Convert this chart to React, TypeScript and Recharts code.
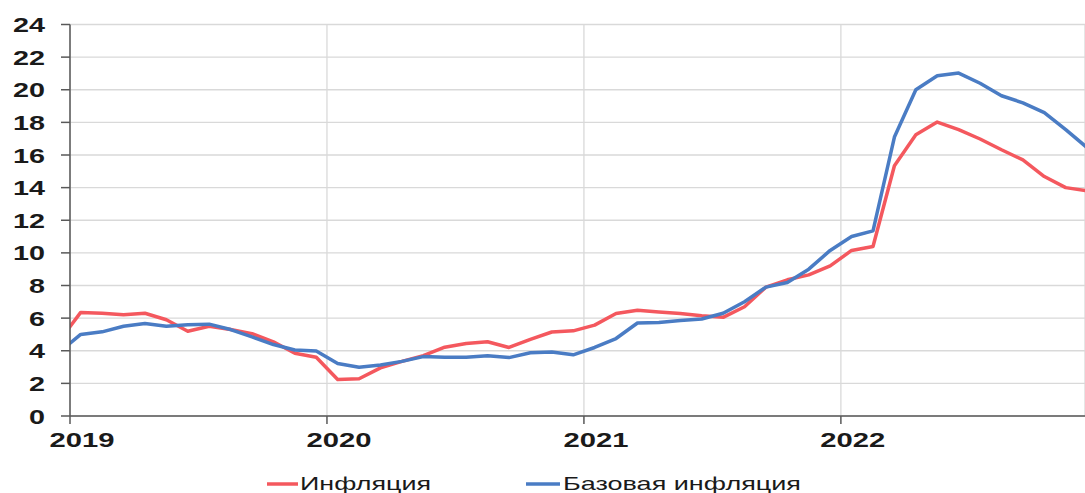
import { LineChart, Line, XAxis, YAxis, CartesianGrid, Legend } from 'recharts';

// monthly, mid-month points, Dec 2018 .. Dec 2022
const inflation = [
    4.6,
    6.35, 6.3, 6.2, 6.3, 5.9, 5.2, 5.5, 5.3, 5.05, 4.55, 3.85, 3.6,
    2.24, 2.28, 2.95, 3.35, 3.7, 4.22, 4.45, 4.55, 4.2, 4.7, 5.15, 5.22,
    5.57, 6.28, 6.48, 6.38, 6.28, 6.15, 6.05, 6.7, 7.9, 8.35, 8.65, 9.2,
    10.15, 10.39, 15.34, 17.24, 18.02, 17.55, 16.98, 16.32, 15.7, 14.68, 14.0, 13.8,
];
const coreInflation = [
    3.92,
    5.0, 5.16, 5.5, 5.67, 5.5, 5.6, 5.63, 5.3, 4.85, 4.38, 4.05, 3.98,
    3.22, 2.99, 3.13, 3.35, 3.64, 3.6, 3.6, 3.7, 3.58, 3.88, 3.92, 3.75,
    4.2, 4.75, 5.7, 5.73, 5.85, 5.95, 6.3, 7.0, 7.9, 8.18, 9.0, 10.15,
    11.0, 11.35, 17.1, 20.0, 20.86, 21.02, 20.4, 19.63, 19.2, 18.6, 17.55, 16.45,
];
const yearLabels = ['2019', '2020', '2021', '2022'];
const yTicks = [0, 2, 4, 6, 8, 10, 12, 14, 16, 18, 20, 22, 24];

const RED = '#F4585E';
const BLUE = '#4A7CC4';

const data = inflation.map((v, i) => ({
    t: i - 0.5,
    infl: v,
    core: coreInflation[i],
}));

const YTick = (props: any) => {
    const { x, y, payload } = props;
    const s = String(payload.value);
    return (
        <text x={x} y={y + 7.5} textAnchor="end" fontFamily="'Liberation Sans', Arial, sans-serif"
            fontWeight="bold" fontSize={21} fill="#1a1a1a"
            textLength={s.length * 16} lengthAdjust="spacingAndGlyphs">
            {s}
        </text>
    );
};

const XTick = (props: any) => {
    const { x, y, payload } = props;
    const label = yearLabels[Math.round(payload.value / 12)];
    return (
        <text x={x + 12} y={y + 23} textAnchor="middle" fontFamily="'Liberation Sans', Arial, sans-serif"
            fontWeight="bold" fontSize={19.5} fill="#1a1a1a"
            textLength={65} lengthAdjust="spacingAndGlyphs">
            {label}
        </text>
    );
};

const LegendBox = () => (
    <svg width={1085} height={22} style={{ display: 'block' }}>
        <line x1={267} x2={298} y1={13} y2={13} stroke={RED} strokeWidth={3.5} />
        <text x={300} y={19} fontFamily="'Liberation Sans', Arial, sans-serif" fontSize={19} fill="#1a1a1a"
            textLength={131} lengthAdjust="spacingAndGlyphs">Инфляция</text>
        <line x1={526} x2={560} y1={13} y2={13} stroke={BLUE} strokeWidth={3.5} />
        <text x={563} y={19} fontFamily="'Liberation Sans', Arial, sans-serif" fontSize={19} fill="#1a1a1a"
            textLength={238} lengthAdjust="spacingAndGlyphs">Базовая инфляция</text>
    </svg>
);

export default function App() {
    return (
        <div style={{ position: 'absolute', left: 0, top: 0, width: 1085, height: 493, background: '#fff' }}>
            <LineChart width={1085} height={493} data={data}
                margin={{ top: 24.5, right: 0, bottom: 0, left: 10 }}>
                <CartesianGrid stroke="#d9d9d9" strokeWidth={1.3} />
                <XAxis dataKey="t" type="number" domain={[0, 47.4]} allowDataOverflow
                    ticks={[0, 12, 24, 36]} tick={<XTick />} tickSize={8} tickMargin={0}
                    height={55} stroke="#595959" strokeWidth={1.5} interval={0} />
                <YAxis domain={[0, 24]} ticks={yTicks} tick={<YTick />} tickSize={9} tickMargin={16}
                    width={60} stroke="#595959" strokeWidth={1.5} interval={0} />
                <Legend verticalAlign="bottom" content={<LegendBox />}
                    wrapperStyle={{ left: 0, width: 1085 }} />
                <Line type="linear" dataKey="infl" name="Инфляция" stroke={RED} strokeWidth={3.5}
                    dot={false} isAnimationActive={false} strokeLinejoin="round" />
                <Line type="linear" dataKey="core" name="Базовая инфляция" stroke={BLUE} strokeWidth={3.5}
                    dot={false} isAnimationActive={false} strokeLinejoin="round" />
            </LineChart>
        </div>
    );
}
